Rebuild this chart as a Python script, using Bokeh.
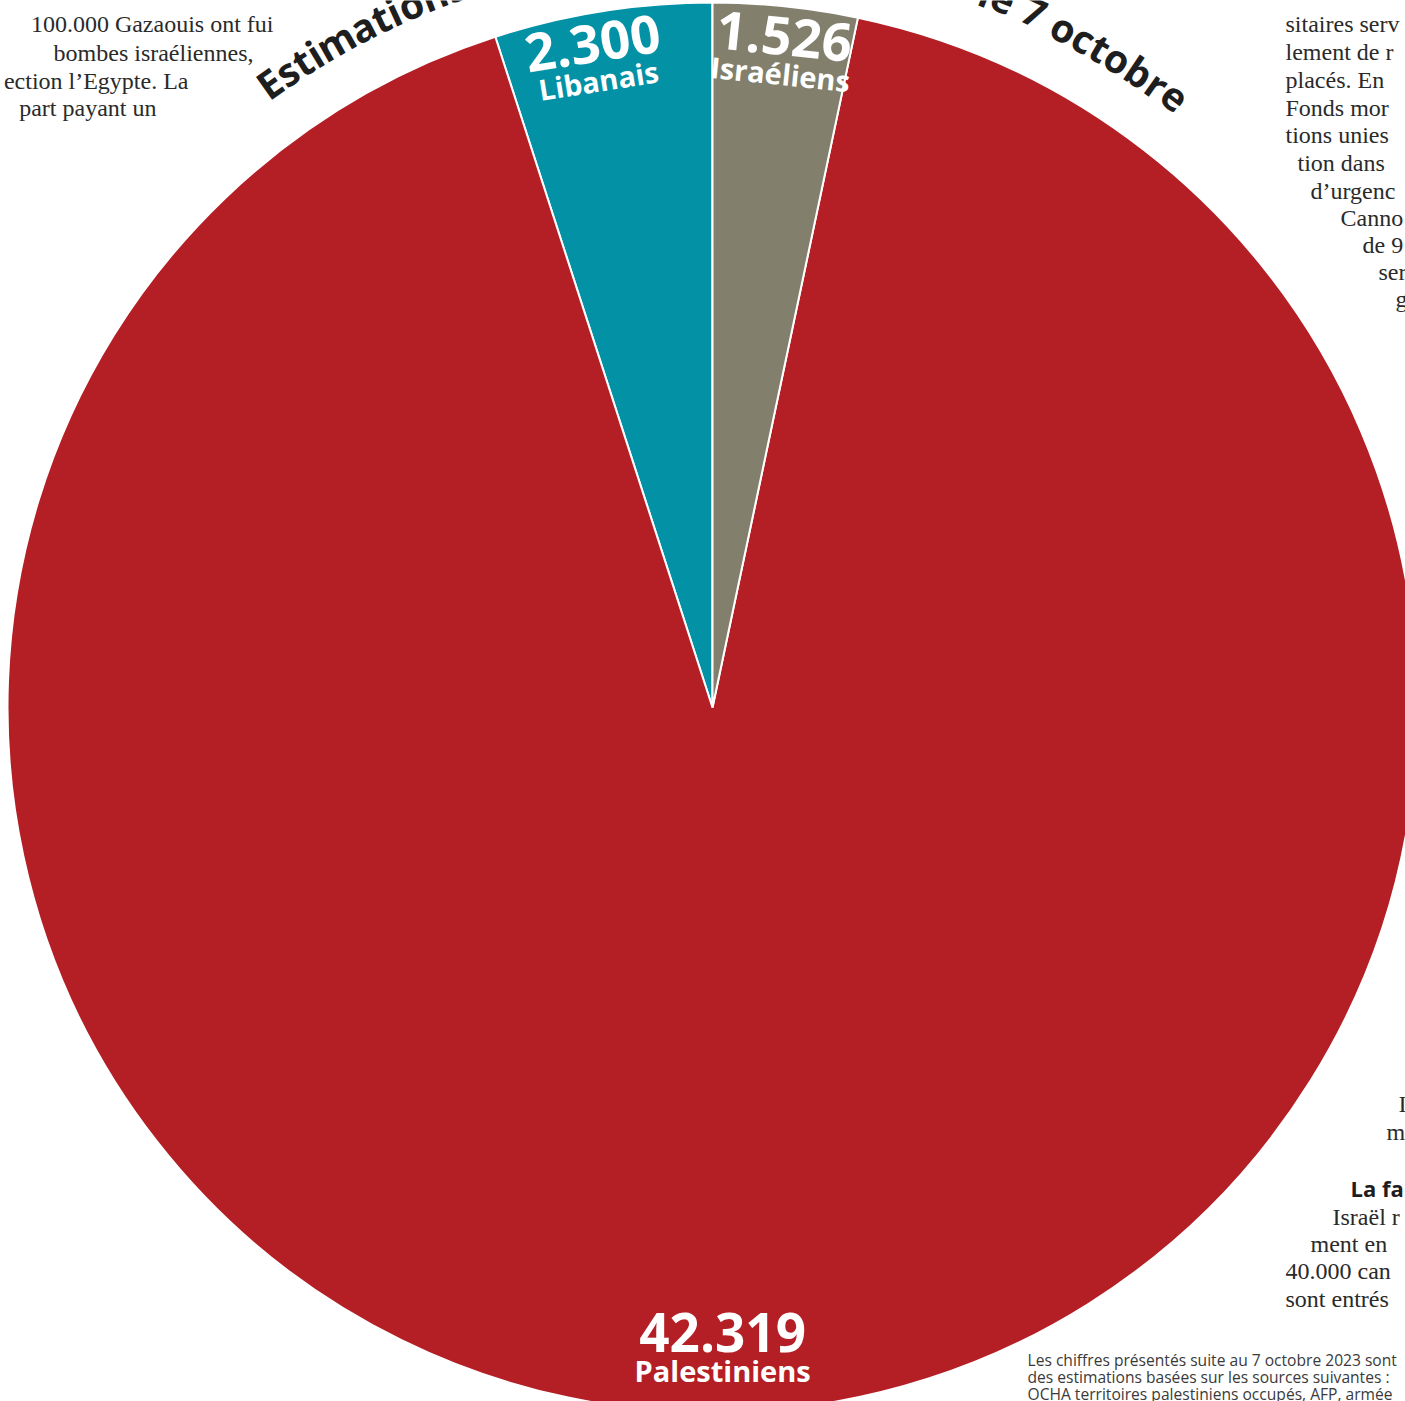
import numpy as np
from bokeh.plotting import figure
from bokeh.models import ColumnDataSource, Range1d
from bokeh.core.properties import value
from bokeh.embed import file_html
from bokeh.resources import INLINE

# ---------------- data ----------------
categories = ["Libanais", "Palestiniens", "Israéliens"]
deaths = [2300, 42319, 1526]
death_labels = ["2.300", "42.319", "1.526"]
slice_colors = ["#0391A6", "#B41F26", "#827F6D"]
title_text = "Estimations du nombre de morts depuis le 7 octobre"

footnote_lines = [
    "Les chiffres présentés suite au 7 octobre 2023 sont",
    "des estimations basées sur les sources suivantes :",
    "OCHA territoires palestiniens occupés, AFP, armée",
]
left_col_lines = ["100.000 Gazaouis ont fui", "bombes   israéliennes,",
                  "ection  l’Egypte.  La", "part  payant  un"]
right_col_lines = ["sitaires serv", "lement de r", "placés.  En", "Fonds  mor",
                   "tions unies", "tion  dans", "d’urgenc", "Canno", "de 9",
                   "ser", "g"]
lower_right_lines = ["I", "m", "Israël r", "ment  en", "40.000 can", "sont entrés"]
lower_right_head = "La fa"

# ---------------- layout ----------------
W, H = 1405, 1401
p = figure(width=W, height=H, x_range=Range1d(0, W), y_range=Range1d(-H, 0),
           x_axis_type=None, y_axis_type=None, toolbar_location=None,
           output_backend="svg", min_border=0)
p.outline_line_color = None
p.background_fill_color = "white"
p.border_fill_color = "white"

CX, CY, R = 712.0, -707.0, 705.0

vals = np.array(deaths, dtype=float)
frac = vals / vals.sum()
start = np.pi / 2 + 2 * np.pi * np.concatenate([[0], np.cumsum(frac)[:-1]])
end = start + 2 * np.pi * frac
mid = (start + end) / 2

src = ColumnDataSource(dict(start=start, end=end, color=slice_colors, cat=categories))
p.wedge(x=CX, y=CY, radius=R, start_angle="start", end_angle="end",
        fill_color="color", line_color="white", line_width=2, source=src)

# slice labels
top = np.sin(mid) > 0
nudge = np.radians([1.3, 0.9, -0.15])
lab_ang = np.where(top, mid + nudge, 1.5 * np.pi + nudge)
rot = np.where(top, mid - np.pi / 2, 0.0)
ar = np.where(top, 0.93 * R, 0.915 * R)
ax = CX + ar * np.cos(lab_ang)
ay = CY + ar * np.sin(lab_ang)
upx, upy = -np.sin(rot), np.cos(rot)
num_size = np.where(top, "53px", "53px")
name_size = np.where(top, "29px", "29px")
num_src = ColumnDataSource(dict(x=ax + 20 * upx, y=ay + 20 * upy, t=death_labels,
                                a=rot, fs=list(num_size)))
name_src = ColumnDataSource(dict(x=ax - 18 * upx, y=ay - 18 * upy, t=categories,
                                 a=rot, fs=list(name_size)))
for s in (num_src, name_src):
    p.text(x="x", y="y", text="t", angle="a", text_font_size="fs", source=s,
           text_font=value("Open Sans"), text_font_style="bold", text_color="white",
           text_align="center", text_baseline="middle")

# curved title (characters laid out along an arc)
widths = {"E": .56, "s": .50, "t": .43, "i": .30, "m": .93, "a": .60, "o": .62,
          "n": .65, " ": .26, "d": .64, "u": .65, "b": .65, "r": .46, "e": .60,
          "p": .65, "l": .30, "7": .57, "c": .51}
fs_title = 39.0
R_adv = 752.0
R_draw = 766.0
w = np.array([widths.get(ch, .58) for ch in title_text]) * fs_title / R_adv
c = np.cumsum(w) - w / 2
a0, a1 = np.radians(126.2), np.radians(52.0)
ang_fwd = a0 - c
ang_bwd = a1 + (w.sum() - c)
h = title_text.index(" du")
t = title_text.index("depuis")
idx = np.arange(len(title_text))
ang_mid = np.interp(c, [c[h - 1], c[t]], [ang_fwd[h - 1], ang_bwd[t]])
ang = np.where(idx < h, ang_fwd, np.where(idx >= t, ang_bwd, ang_mid))
tx = CX + R_draw * np.cos(ang)
ty = CY + R_draw * np.sin(ang)
keep = ty < 25  # only the characters that reach into the page
tsrc = ColumnDataSource(dict(x=tx[keep], y=ty[keep],
                             t=[ch for ch, k in zip(title_text, keep) if k],
                             a=(ang - np.pi / 2)[keep]))
p.text(x="x", y="y", text="t", angle="a", source=tsrc, text_font=value("Open Sans"),
       text_font_style="bold", text_font_size=f"{fs_title}px", text_color="#1E1E1E",
       text_align="center", text_baseline="alphabetic")

# surrounding newspaper text
serif = value("Liberation Serif")
body_color = "#2A2A2A"
lx = [273, 265, 200, 168]
ly = [23, 52, 80, 107]
p.text(x=lx, y=[-v for v in ly], text=left_col_lines, text_font=serif,
       text_font_size="24px", text_color=body_color, text_align="right",
       text_baseline="alphabetic")

rx = [1285, 1285, 1285, 1285, 1285, 1297, 1310, 1340, 1362, 1378, 1395]
ry = [23, 51, 79, 107, 134, 162, 190, 217, 244, 271, 298]
p.text(x=rx, y=[-v for v in ry], text=right_col_lines, text_font=serif,
       text_font_size="24px", text_color=body_color, text_align="left",
       text_baseline="alphabetic")

lrx = [1398, 1386, 1332, 1310, 1285, 1285]
lry = [1103, 1131, 1216, 1243, 1270, 1298]
p.text(x=lrx, y=[-v for v in lry], text=lower_right_lines, text_font=serif,
       text_font_size="24px", text_color=body_color, text_align="left",
       text_baseline="alphabetic")
p.text(x=[1350], y=[-1187], text=[lower_right_head], text_font=value("Open Sans"),
       text_font_style="bold", text_font_size="22px", text_color="#1E1E1E",
       text_align="left", text_baseline="alphabetic")

fy = [1359, 1376, 1393]
p.text(x=[1027] * 3, y=[-v for v in fy], text=footnote_lines, text_font=value("Open Sans"),
       text_font_size="15.6px", text_color="#3A3A3A", text_align="left",
       text_baseline="alphabetic")

open("out.html", "w").write(file_html(p, INLINE))
